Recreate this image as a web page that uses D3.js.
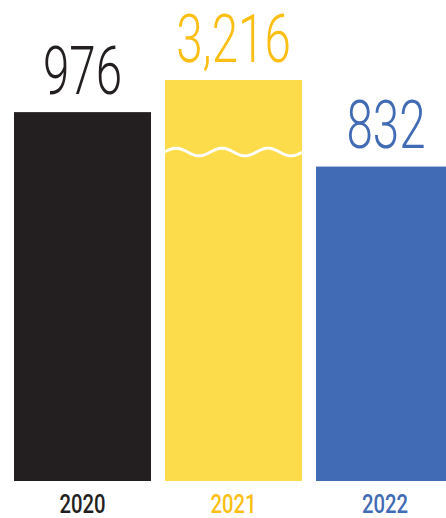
<!DOCTYPE html>
<html>
<head>
    <meta charset="utf-8">
    <title></title>
    <style>
        body { margin: 0; background: #fff; }
        .value { font-family: Roboto, "Liberation Sans", sans-serif; font-weight: 300; }
        .year { font-family: Roboto, "Liberation Sans", sans-serif; font-weight: 500; }
    </style>
</head>
<body>
<script src="https://cdn.jsdelivr.net/npm/d3@7/dist/d3.min.js"></script>
<script>
    var width  = 446;
    var height = 518;

    var years  = ["2020", "2021", "2022"];
    var values = [976, 3216, 832];
    var labels = ["976", "3,216", "832"];
    var barColors  = ["#231f20", "#fddc4c", "#416bb4"];
    var textColors = ["#231f20", "#fbbf14", "#416bb4"];
    // visible top of the value axis, the 2021 bar is cut with a wavy break
    var yMax = 1061;

    var svg = d3.select("body").append("svg")
        .attr("width", width)
        .attr("height", height);

    var x = d3.scaleBand()
        .domain(years)
        .range([14, 453])
        .paddingInner(14/151)
        .paddingOuter(0);

    var y = d3.scaleLinear()
        .domain([0, yMax])
        .range([481, 80])
        .clamp(true);

    var data = years.map(function(d, i){
        return {year: d, value: values[i], label: labels[i], bar: barColors[i], text: textColors[i]};
    });

    svg.append("g").selectAll("rect")
        .data(data)
        .enter()
        .append("rect")
        .attr("x", function(d){ return x(d.year); })
        .attr("y", function(d){ return y(d.value); })
        .attr("width", x.bandwidth())
        .attr("height", function(d){ return y(0) - y(d.value); })
        .attr("fill", function(d){ return d.bar; });

    // wavy break on bars that go past the axis
    data.filter(function(d){ return d.value > yMax; }).forEach(function(d){
        var x0 = x(d.year), x1 = x0 + x.bandwidth();
        var cy = y(yMax) + 72, amp = 3.8, period = 46;
        var pts = d3.range(x0, x1 + 0.5, 1).map(function(px){
            return [px, cy - amp * Math.cos(2 * Math.PI * (px - (x0 + 11)) / period)];
        });
        svg.append("path")
            .attr("d", d3.line()(pts))
            .attr("fill", "none")
            .attr("stroke", "#fff")
            .attr("stroke-width", 3);
    });

    svg.append("g").selectAll("text")
        .data(data)
        .enter()
        .append("text")
        .attr("class", "value")
        .attr("fill", function(d){ return d.text; })
        .attr("font-size", "67px")
        .attr("text-anchor", "middle")
        .attr("transform", function(d){
            var cx = x(d.year) + x.bandwidth()/2;
            if (d.year == "2022") cx = 386;
            return "translate(" + cx + "," + (y(d.value) - 18.5) + ") scale(0.71,1)";
        })
        .text(function(d){ return d.label; });

    svg.append("g").selectAll("text")
        .data(data)
        .enter()
        .append("text")
        .attr("class", "year")
        .attr("fill", function(d){ return d.text; })
        .attr("font-size", "26px")
        .attr("text-anchor", "middle")
        .attr("transform", function(d){
            var cx = x(d.year) + x.bandwidth()/2;
            if (d.year == "2022") cx = 385;
            return "translate(" + cx + ",512.5) scale(0.78,1)";
        })
        .text(function(d){ return d.year; });
</script>
</body>
</html>
